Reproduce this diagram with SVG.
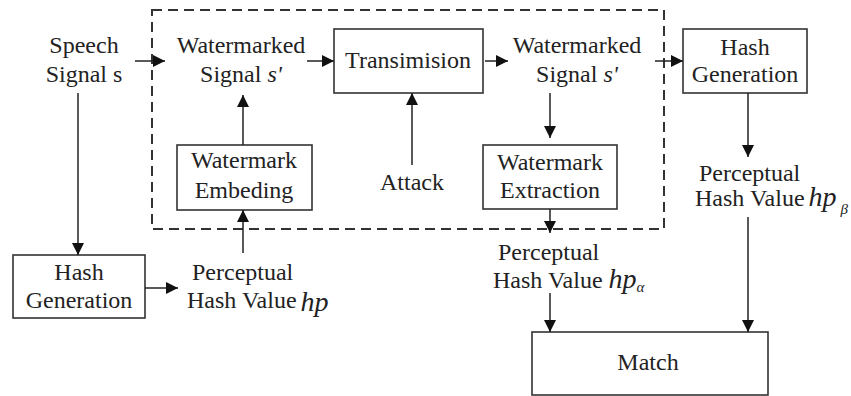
<svg xmlns="http://www.w3.org/2000/svg" width="851" height="396" viewBox="0 0 851 396">
<defs>
<marker id="ah" markerUnits="userSpaceOnUse" markerWidth="12" markerHeight="12" viewBox="0 0 12 12" refX="12" refY="6" orient="auto">
<path d="M0,0 L12,6 L0,12 Z" fill="#111"/>
</marker>
<style>
text{font-family:Tinos,"Liberation Serif","Times New Roman",Times,"Noto Serif","DejaVu Serif",FreeSerif,serif;font-size:24px;fill:#222;text-anchor:middle}
.l{text-anchor:start}
.i{font-style:italic}
.box{fill:#fff;stroke:#333;stroke-width:1.6}
.c line{stroke:#222;stroke-width:1.5;marker-end:url(#ah)}
</style>
</defs>
<rect width="851" height="396" fill="#fff"/>
<rect id="dashed" x="152" y="10" width="512" height="219" fill="none" stroke="#333" stroke-width="2" stroke-dasharray="10,6"/>
<g id="speech"><text x="84" y="53">Speech</text><text x="84" y="82">Signal s</text></g>
<g id="wm1"><text x="241" y="53">Watermarked</text><text x="241" y="82">Signal <tspan class="i">s'</tspan></text></g>
<g id="trans"><rect class="box" x="334" y="29" width="149" height="64"/><text x="408" y="68">Transimision</text></g>
<g id="wm2"><text x="577" y="53">Watermarked</text><text x="577" y="82">Signal <tspan class="i">s'</tspan></text></g>
<g id="hashgen2"><rect class="box" x="683" y="29" width="124" height="64"/><text x="745" y="55">Hash</text><text x="745" y="82">Generation</text></g>
<g id="embed"><rect class="box" x="177" y="145" width="135" height="65"/><text x="244" y="168">Watermark</text><text x="244" y="198">Embeding</text></g>
<g id="attack"><text x="412" y="190">Attack</text></g>
<g id="extract"><rect class="box" x="483" y="145" width="134" height="64"/><text x="550" y="170">Watermark</text><text x="550" y="198">Extraction</text></g>
<g id="hashgen1"><rect class="box" x="13" y="255" width="132" height="63"/><text x="79" y="280">Hash</text><text x="79" y="308">Generation</text></g>
<g id="hp"><text class="l" x="192" y="280">Perceptual</text><text class="l" x="187" y="308">Hash Value<tspan class="i" font-size="28" dx="4" dy="3">hp</tspan></text></g>
<g id="hpa"><text class="l" x="498" y="260">Perceptual</text><text class="l" x="493" y="288">Hash Value <tspan class="i" font-size="28">hp</tspan><tspan class="i" font-size="15" dy="4">α</tspan></text></g>
<g id="hpb"><text class="l" x="699" y="181">Perceptual</text><text class="l" x="695" y="206">Hash Value<tspan class="i" font-size="28" dx="4">hp</tspan><tspan class="i" font-size="15" dx="4" dy="8">β</tspan></text></g>
<g id="match"><rect class="box" x="532" y="332" width="236" height="63"/><text x="648" y="370">Match</text></g>
<g id="connectors" class="c">
<line x1="135" y1="61" x2="165" y2="61"/>
<line x1="307" y1="61" x2="334" y2="61"/>
<line x1="485" y1="61" x2="508" y2="61"/>
<line x1="655" y1="61" x2="683" y2="61"/>
<line x1="550" y1="93" x2="550" y2="138"/>
<line x1="550" y1="209" x2="550" y2="233"/>
<line x1="550" y1="293" x2="550" y2="332"/>
<line x1="748" y1="93" x2="748" y2="157"/>
<line x1="748" y1="217" x2="748" y2="332"/>
<line x1="78" y1="93" x2="78" y2="255"/>
<line x1="145" y1="288" x2="178" y2="288"/>
<line x1="243" y1="253" x2="243" y2="210"/>
<line x1="243" y1="145" x2="243" y2="95"/>
<line x1="412" y1="165" x2="412" y2="93"/>
</g>
</svg>
